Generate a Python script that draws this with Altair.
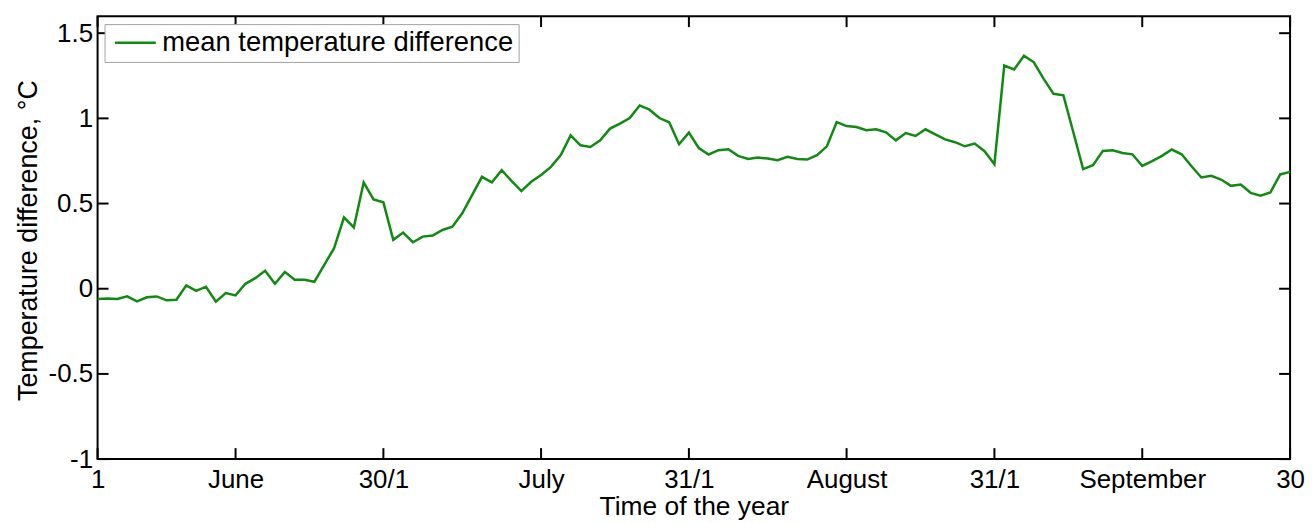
import json
import altair as alt
import pandas as pd

# daily index (0 = 1 June ... 121 = 30 September)
days = list(range(122))
values = [
    -0.060, -0.057, -0.060, -0.045, -0.074, -0.050, -0.045, -0.068, -0.065, 0.020,
    -0.012, 0.012, -0.076, -0.025, -0.039, 0.029, 0.062, 0.105, 0.029, 0.099,
    0.053, 0.053, 0.041, 0.140, 0.238, 0.419, 0.360, 0.624, 0.524, 0.507,
    0.287, 0.330, 0.273, 0.306, 0.312, 0.345, 0.364, 0.443, 0.550, 0.657,
    0.624, 0.696, 0.633, 0.573, 0.628, 0.668, 0.715, 0.784, 0.900, 0.842,
    0.832, 0.871, 0.940, 0.969, 1.002, 1.076, 1.051, 1.002, 0.977, 0.848,
    0.916, 0.826, 0.788, 0.813, 0.819, 0.780, 0.762, 0.770, 0.764, 0.754,
    0.774, 0.762, 0.758, 0.784, 0.836, 0.978, 0.955, 0.949, 0.930, 0.936,
    0.918, 0.871, 0.914, 0.897, 0.936, 0.906, 0.877, 0.860, 0.836, 0.852,
    0.807, 0.731, 1.310, 1.287, 1.368, 1.329, 1.232, 1.144, 1.135, 0.920,
    0.702, 0.725, 0.809, 0.813, 0.797, 0.789, 0.721, 0.749, 0.780, 0.817,
    0.789, 0.719, 0.653, 0.663, 0.641, 0.604, 0.612, 0.563, 0.546, 0.565,
    0.671, 0.686,
]
series_name = "mean temperature difference"

x_ticks = [0, 14, 29, 45, 60, 76, 91, 106, 121]
x_labels = ["1", "June", "30/1", "July", "31/1", "August", "31/1", "September", "30"]
y_ticks = [-1, -0.5, 0, 0.5, 1, 1.5]

W, H = 1198, 445
TICK = 11
FONT = "Liberation Sans"

df = pd.DataFrame({"day": days, "value": values, "series": series_name})
xt = pd.DataFrame({"day": x_ticks})
yt = pd.DataFrame({"value": y_ticks})

x_scale = alt.Scale(domain=[0, 121], nice=False, zero=False)
y_scale = alt.Scale(domain=[-1, 1.6], nice=False, zero=False)

label_expr = f"{json.dumps(x_labels)}[indexof({json.dumps(x_ticks)}, datum.value)]"

x_axis = alt.Axis(
    values=x_ticks, labelExpr=label_expr, ticks=False, domain=False, grid=False,
    labelFlush=False, labelOverlap=False, labelPadding=8, labelFontSize=26,
    labelFont=FONT, labelColor="black", title="Time of the year",
    titleFontSize=26.5, titleFont=FONT, titleFontWeight="normal",
    titleColor="black", titlePadding=1,
)
y_axis = alt.Axis(
    values=y_ticks, labelExpr="'' + datum.value", ticks=False, domain=False,
    grid=False, labelOverlap=False, labelPadding=5, labelFontSize=26,
    labelFont=FONT, labelColor="black", title="Temperature difference, °C",
    titleFontSize=27, titleFont=FONT, titleFontWeight="normal",
    titleColor="black", titleX=-55, titleY=225,
)

X = alt.X("day:Q", scale=x_scale, axis=x_axis)
Y = alt.Y("value:Q", scale=y_scale, axis=y_axis)

line = alt.Chart(df).mark_line(strokeWidth=2.5).encode(
    x=X,
    y=Y,
    color=alt.Color(
        "series:N",
        scale=alt.Scale(domain=[series_name], range=["#118a11"]),
        legend=alt.Legend(
            orient="none", legendX=7, legendY=8, title=None,
            symbolType="M-0.825,0H3.275", symbolSize=400, symbolStrokeWidth=2.5,
            labelFontSize=27.5, labelFont=FONT, labelColor="black", labelLimit=0,
            strokeColor="#a0a0a0", fillColor="white", padding=5,
            labelOffset=25.5, cornerRadius=0,
        ),
    ),
)

bottom_ticks = alt.Chart(xt).mark_rule(color="black", strokeWidth=2).encode(
    x=X, y=alt.value(H), y2=alt.value(H - TICK)
)
top_ticks = alt.Chart(xt).mark_rule(color="black", strokeWidth=2).encode(
    x=X, y=alt.value(0), y2=alt.value(TICK)
)
left_ticks = alt.Chart(yt).mark_rule(color="black", strokeWidth=2).encode(
    y=Y, x=alt.value(0), x2=alt.value(TICK)
)
right_ticks = alt.Chart(yt).mark_rule(color="black", strokeWidth=2).encode(
    y=Y, x=alt.value(W - TICK), x2=alt.value(W)
)

chart = (
    alt.layer(line, bottom_ticks, top_ticks, left_ticks, right_ticks)
    .properties(
        width=W, height=H,
        autosize=alt.AutoSizeParams(type="none"),
        padding={"left": 90, "top": 7, "right": 16, "bottom": 62},
    )
    .configure(background="white")
    .configure_view(stroke="black", strokeWidth=2)
)

chart.save("out.html", embed_options={"renderer": "svg", "actions": False})
